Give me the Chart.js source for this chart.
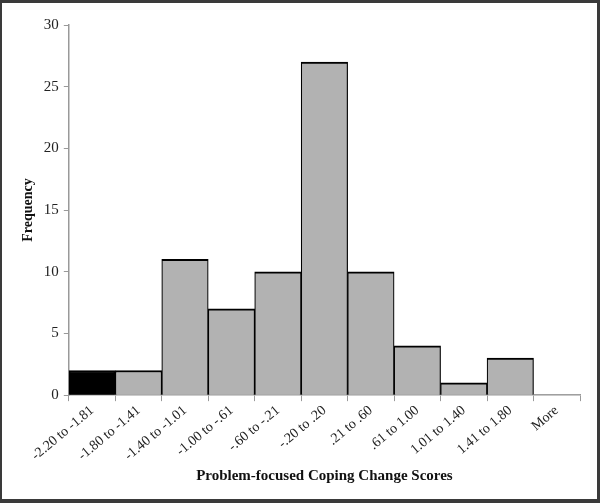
<!DOCTYPE html>
<html>
<head>
<meta charset="utf-8">
<script src="https://cdn.jsdelivr.net/npm/chart.js@4/dist/chart.umd.min.js"></script>
<style>
html,body{margin:0;padding:0;background:#fff;}
#frame{width:600px;height:503px;box-sizing:border-box;border-top:3px solid #3a3a3a;border-left:2px solid #3a3a3a;border-right:3px solid #3a3a3a;border-bottom:4px solid #3a3a3a;background:#fff;}
#wrap{width:595px;height:496px;position:relative;}
</style>
</head>
<body>
<div id="frame"><div id="wrap"><canvas id="c"></canvas></div></div>
<script>
const categories = ["-2.20 to -1.81","-1.80 to -1.41","-1.40 to -1.01","-1.00 to -.61","-.60 to -.21","-.20 to .20",".21 to .60",".61 to 1.00","1.01 to 1.40","1.41 to 1.80","More"];
const frequency = [2,2,11,7,10,27,10,4,1,3,0];
const yTicks = [0,5,10,15,20,25,30];
const barColors = categories.map((c,i)=> i===0 ? '#000000' : '#b2b2b2');

const serif = '"Liberation Serif","Times New Roman",serif';
new Chart(document.getElementById('c'), {
  type: 'bar',
  data: {
    labels: categories,
    datasets: [{
      data: frequency,
      backgroundColor: barColors,
      borderColor: '#000',
      borderWidth: ctx => ctx.raw === 0 ? 0 : {top:2,left:1.2,right:1.2,bottom:0},
      borderSkipped: false,
      barPercentage: 1,
      categoryPercentage: 1
    }]
  },
  options: {
    responsive: true,
    maintainAspectRatio: false,
    animation: false,
    layout: {padding: {top: 22, right: 17, left: 14, bottom: 10}},
    plugins: {legend: {display: false}, tooltip: {enabled: false}},
    scales: {
      x: {
        offset: true,
        grid: {offset: true, drawOnChartArea: false, color: '#999', tickLength: 6},
        border: {color: '#999', width: 1.5},
        ticks: {minRotation: 40, maxRotation: 40, color: '#222', font: {family: serif, size: 14}, padding: 1},
        title: {display: true, text: 'Problem-focused Coping Change Scores', color: '#111', font: {family: serif, size: 15, weight: 'bold'}, padding: {top: 2}}
      },
      y: {
        min: 0, max: 30,
        afterBuildTicks: axis => { axis.ticks = yTicks.map(v => ({value: v})); },
        grid: {drawOnChartArea: false, color: '#999', tickLength: 5},
        border: {color: '#999', width: 1.5},
        ticks: {color: '#222', font: {family: serif, size: 15}, padding: 5},
        title: {display: true, text: 'Frequency', color: '#111', font: {family: serif, size: 14, weight: 'bold'}, padding: {bottom: 2}}
      }
    }
  }
});
</script>
</body>
</html>
